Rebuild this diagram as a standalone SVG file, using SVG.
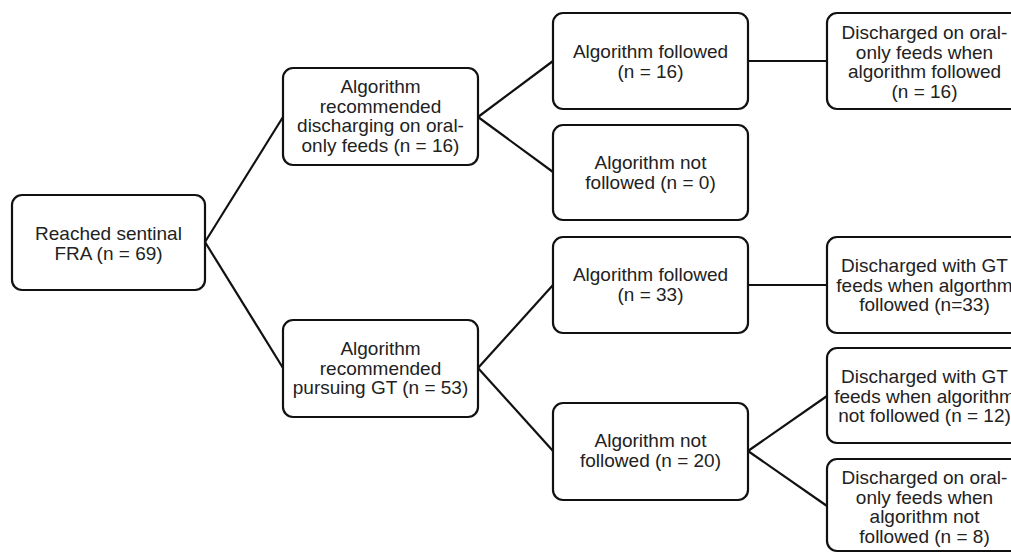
<svg xmlns="http://www.w3.org/2000/svg" width="1011" height="553" viewBox="0 0 1011 553">
<style>
.box{fill:#fff;stroke:#111;stroke-width:2.2}
.t{font-family:"Liberation Sans",Arial,sans-serif;font-size:19px;fill:#222;text-anchor:middle}
.c{stroke:#111;stroke-width:2.2;fill:none}
</style>
<rect width="1011" height="553" fill="#fff"/>
<g id="connectors">
<line class="c" x1="205" y1="242" x2="283" y2="117"/>
<line class="c" x1="205" y1="242" x2="283" y2="368"/>
<line class="c" x1="478" y1="117" x2="553" y2="61"/>
<line class="c" x1="478" y1="117" x2="553" y2="172"/>
<line class="c" x1="478" y1="368" x2="553" y2="285"/>
<line class="c" x1="478" y1="368" x2="553" y2="451"/>
<line class="c" x1="748" y1="61" x2="827" y2="61"/>
<line class="c" x1="748" y1="285" x2="827" y2="285"/>
<line class="c" x1="748" y1="451" x2="827" y2="396"/>
<line class="c" x1="748" y1="451" x2="827" y2="506"/>
</g>
<g id="root">
<rect class="box" x="12" y="195" width="193" height="95" rx="10"/>
<text class="t" x="108.5" y="240">Reached sentinal</text>
<text class="t" x="108.5" y="259.5">FRA (n = 69)</text>
</g>
<g id="rec-oral">
<rect class="box" x="283" y="68" width="195" height="97" rx="10"/>
<text class="t" x="380.5" y="93">Algorithm</text>
<text class="t" x="380.5" y="112.5">recommended</text>
<text class="t" x="380.5" y="132">discharging on oral-</text>
<text class="t" x="380.5" y="151.5">only feeds (n = 16)</text>
</g>
<g id="rec-gt">
<rect class="box" x="283" y="320" width="195" height="97" rx="10"/>
<text class="t" x="380.5" y="355">Algorithm</text>
<text class="t" x="380.5" y="374.5">recommended</text>
<text class="t" x="380.5" y="394">pursuing GT (n = 53)</text>
</g>
<g id="oral-followed">
<rect class="box" x="553" y="13" width="195" height="96" rx="10"/>
<text class="t" x="650.5" y="58">Algorithm followed</text>
<text class="t" x="650.5" y="77.5">(n = 16)</text>
</g>
<g id="oral-not-followed">
<rect class="box" x="553" y="125" width="195" height="95" rx="10"/>
<text class="t" x="650.5" y="169">Algorithm not</text>
<text class="t" x="650.5" y="188.5">followed (n = 0)</text>
</g>
<g id="gt-followed">
<rect class="box" x="553" y="237" width="195" height="96" rx="10"/>
<text class="t" x="650.5" y="281">Algorithm followed</text>
<text class="t" x="650.5" y="300.5">(n = 33)</text>
</g>
<g id="gt-not-followed">
<rect class="box" x="553" y="403" width="195" height="97" rx="10"/>
<text class="t" x="650.5" y="447">Algorithm not</text>
<text class="t" x="650.5" y="466.5">followed (n = 20)</text>
</g>
<g id="out-oral-followed">
<rect class="box" x="827" y="13" width="195" height="96" rx="10"/>
<text class="t" x="924.5" y="39">Discharged on oral-</text>
<text class="t" x="924.5" y="58.5">only feeds when</text>
<text class="t" x="924.5" y="78">algorithm followed</text>
<text class="t" x="924.5" y="97.5">(n = 16)</text>
</g>
<g id="out-gt-followed">
<rect class="box" x="827" y="237" width="195" height="96" rx="10"/>
<text class="t" x="924.5" y="272">Discharged with GT</text>
<text class="t" x="924.5" y="291.5">feeds when algorthm</text>
<text class="t" x="924.5" y="311">followed (n=33)</text>
</g>
<g id="out-gt-not-followed">
<rect class="box" x="827" y="348" width="195" height="95" rx="10"/>
<text class="t" x="924.5" y="383">Discharged with GT</text>
<text class="t" x="924.5" y="402.5">feeds when algorithm</text>
<text class="t" x="924.5" y="422">not followed (n = 12)</text>
</g>
<g id="out-oral-not-followed">
<rect class="box" x="827" y="459" width="195" height="92" rx="10"/>
<text class="t" x="924.5" y="484">Discharged on oral-</text>
<text class="t" x="924.5" y="503.5">only feeds when</text>
<text class="t" x="924.5" y="523">algorithm not</text>
<text class="t" x="924.5" y="542.5">followed (n = 8)</text>
</g>
</svg>
